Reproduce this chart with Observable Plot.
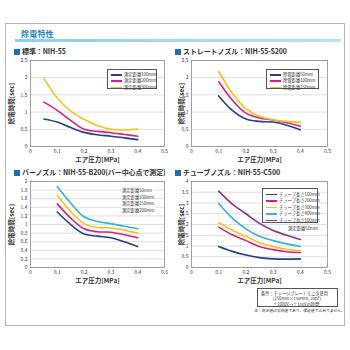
<!DOCTYPE html>
<html><head><meta charset="utf-8">
<script src="https://cdn.jsdelivr.net/npm/d3@7"></script>
<script src="https://cdn.jsdelivr.net/npm/@observablehq/plot@0.6"></script>
<style>
body{margin:0;background:#fff;font-family:"Noto Sans CJK JP","Noto Sans",sans-serif;}
#root{position:relative;width:350px;height:350px;overflow:hidden;background:#fff;}
.abs{position:absolute;}
.ptitle{position:absolute;font-size:7px;font-weight:700;color:#333;white-space:nowrap;line-height:1;letter-spacing:-0.1px;}
.ptitle b{display:inline-block;width:6px;height:6px;background:#1e6db5;margin-right:2px;vertical-align:-0.5px;}
.legend{position:absolute;border:0.6px solid #555;background:#fff;box-sizing:border-box;}
.row{position:absolute;left:0;white-space:nowrap;font-size:4.3px;color:#333;line-height:1;}
.sw{display:inline-block;width:11px;height:1.5px;vertical-align:middle;margin:0 2px 0 3px;}
.plot{position:absolute;}
</style></head><body><div id="root"></div>
<script>
// ---- data ----
const pressureA = [0.05, 0.1, 0.15, 0.2, 0.25, 0.3, 0.35, 0.4];
const pressureB = [0.1, 0.15, 0.2, 0.25, 0.3, 0.35, 0.4];
const xTicks = [0, 0.1, 0.2, 0.3, 0.4, 0.5];

// 標準：NIH-55 (測定距離)
const std100 = [0.80, 0.71, 0.55, 0.41, 0.34, 0.30, 0.25, 0.20];
const std200 = [1.29, 1.05, 0.76, 0.50, 0.44, 0.40, 0.35, 0.30];
const std300 = [1.98, 1.41, 1.03, 0.79, 0.61, 0.50, 0.48, 0.51];
const stdLabels = ["測定距離100mm", "測定距離200mm", "測定距離300mm"];
const stdYTicks = [0, 0.5, 1, 1.5, 2, 2.5];

// ストレートノズル：NIH-55-S200 (除電距離)
const str50 = [1.47, 1.05, 0.80, 0.73, 0.71, 0.62, 0.49];
const str100 = [1.88, 1.35, 0.97, 0.83, 0.77, 0.69, 0.59];
const str150 = [2.18, 1.55, 1.10, 0.88, 0.78, 0.73, 0.70];
const strLabels = ["除電距離50mm", "除電距離100mm", "除電距離150mm"];
const strYTicks = [0, 0.5, 1, 1.5, 2, 2.5];

// バーノズル：NIH-55-B200 (測定距離)
const bar50 = [1.88, 1.50, 1.18, 1.07, 1.02, 0.96, 0.90];
const bar100 = [1.68, 1.30, 1.02, 0.93, 0.92, 0.87, 0.80];
const bar150 = [1.48, 1.15, 0.90, 0.83, 0.82, 0.76, 0.69];
const bar200 = [1.29, 1.00, 0.78, 0.73, 0.69, 0.60, 0.49];
const barLabels = ["測定距離50mm", "測定距離100mm", "測定距離150mm", "測定距離200mm"];
const barYTicks = [0, 0.2, 0.4, 0.6, 0.8, 1, 1.2, 1.4, 1.6, 1.8, 2];

// チューブノズル：NIH-55-C500 (チューブ長さ)
const tube100 = [0.98, 0.75, 0.58, 0.46, 0.40, 0.39, 0.40];
const tube200 = [1.88, 1.52, 1.25, 0.98, 0.83, 0.73, 0.70];
const tube300 = [2.08, 1.73, 1.45, 1.15, 0.98, 0.85, 0.78];
const tube400 = [2.98, 2.30, 1.80, 1.45, 1.25, 1.10, 0.98];
const tube500 = [3.55, 2.95, 2.50, 2.05, 1.72, 1.50, 1.30];
const tubeLabels = ["チューブ長さ100mm", "チューブ長さ200mm", "チューブ長さ300mm", "チューブ長さ400mm", "チューブ長さ500mm"];
const tubeYTicks = [0, 0.5, 1, 1.5, 2, 2.5, 3, 3.5, 4];

const navy = "#233f8f", magenta = "#d8207c", yellow = "#f5c316", cyan = "#38aee0", purple = "#8e2e8e";

const root = document.getElementById("root");
function el(tag, cls, css, html) {
  const e = document.createElement(tag);
  if (cls) e.className = cls;
  if (css) e.style.cssText = css;
  if (html != null) e.innerHTML = html;
  root.appendChild(e);
  return e;
}

// frame & header
el("div", "abs", "left:5px;top:23px;width:340px;height:303px;border:1.5px solid #b3b3b3;box-sizing:border-box;");
el("div", "abs", "left:15px;top:38.5px;width:326px;height:3.5px;background:linear-gradient(90deg,#8fcdee,#b9e2f5);");
el("div", "abs", "left:21px;top:29.5px;font-size:8px;font-weight:700;color:#2a7fc4;line-height:1;letter-spacing:0.2px;", "除電特性");

function panel({left, top, mL, mR, xs, series, yMax, yTicks, yLabelOffset}) {
  const rows = [];
  series.forEach(s => xs.forEach((x, i) => rows.push({x, y: s.values[i], key: s.key})));
  const svg = Plot.plot({
    width: 175, height: 110,
    marginLeft: mL, marginRight: mR, marginTop: 5, marginBottom: 19,
    style: {fontSize: "5px", fontFamily: "'Noto Sans CJK JP', sans-serif", color: "#333", background: "transparent", overflow: "visible"},
    x: {domain: [0, 0.5]},
    y: {domain: [0, yMax]},
    color: {domain: series.map(s => s.key), range: series.map(s => s.color)},
    marks: [
      Plot.gridY(yTicks, {stroke: "#c8c8c8", strokeOpacity: 1, strokeWidth: 0.6}),
      Plot.frame({stroke: "#8a8a8a", strokeWidth: 0.8}),
      Plot.axisX(xTicks, {tickSize: 0, tickPadding: 3, tickFormat: d => String(d), label: "エア圧力[MPa]", labelAnchor: "center", labelArrow: "none", labelOffset: 15}),
      Plot.axisY(yTicks, {tickSize: 0, tickPadding: 3, tickFormat: d => String(d), label: "除電時間[sec]", labelAnchor: "center", labelArrow: "none", labelOffset: yLabelOffset}),
      Plot.line(rows, {x: "x", y: "y", z: "key", stroke: "key", strokeWidth: 1.6, curve: "catmull-rom"})
    ]
  });
  svg.classList.add("plot");
  svg.style.left = left + "px";
  svg.style.top = top + "px";
  d3.select(svg).selectAll('g[aria-label="x-axis label"] text, g[aria-label="y-axis label"] text')
    .attr("font-size", 6.5).attr("font-weight", 700).attr("fill", "#333");
  root.appendChild(svg);
}

function legend({left, top, w, h, labels, colors, rowTops, textOnly}) {
  const box = el("div", "legend", `left:${left}px;top:${top}px;width:${w}px;height:${h}px;` + (textOnly ? "border:none;background:transparent;" : ""));
  labels.forEach((t, i) => {
    const r = document.createElement("div");
    r.className = "row";
    r.style.top = rowTops[i] + "px";
    r.innerHTML = textOnly ? `<span style="background:#fff;padding:0 1px">${t}</span>` : `<span class="sw" style="background:${colors[i]}"></span>${t}`;
    box.appendChild(r);
  });
}

// Panel 1
el("div", "ptitle", "left:14px;top:48px;", "<b></b>標準：NIH-55");
panel({left: 0, top: 55, mL: 30, mR: 11, xs: pressureA, yMax: 2.5, yTicks: stdYTicks, yLabelOffset: 21,
  series: [{key: stdLabels[0], values: std100, color: navy}, {key: stdLabels[1], values: std200, color: magenta}, {key: stdLabels[2], values: std300, color: yellow}]});
legend({left: 107, top: 69, w: 50, h: 20, labels: stdLabels, colors: [navy, magenta, yellow], rowTops: [2, 8.3, 14.6]});

// Panel 2
el("div", "ptitle", "left:175px;top:48px;", "<b></b>ストレートノズル：NIH-55-S200");
panel({left: 175, top: 55, mL: 16, mR: 23, xs: pressureB, yMax: 2.5, yTicks: strYTicks, yLabelOffset: 12,
  series: [{key: strLabels[0], values: str50, color: navy}, {key: strLabels[1], values: str100, color: magenta}, {key: strLabels[2], values: str150, color: yellow}]});
legend({left: 266, top: 69, w: 53, h: 20, labels: strLabels, colors: [navy, magenta, yellow], rowTops: [2, 8.3, 14.6]});

// Panel 3
el("div", "ptitle", "left:14px;top:169px;", "<b></b>バーノズル：NIH-55-B200(バー中心点で測定)");
panel({left: 0, top: 176, mL: 30, mR: 11, xs: pressureB, yMax: 2, yTicks: barYTicks, yLabelOffset: 21,
  series: [{key: barLabels[0], values: bar50, color: cyan}, {key: barLabels[1], values: bar100, color: yellow}, {key: barLabels[2], values: bar150, color: magenta}, {key: barLabels[3], values: bar200, color: navy}]});
legend({left: 121, top: 187, w: 40, h: 26, labels: barLabels, colors: [], rowTops: [1, 7.5, 14, 20.5], textOnly: true});

// Panel 4
el("div", "ptitle", "left:175px;top:169px;", "<b></b>チューブノズル：NIH-55-C500");
panel({left: 175, top: 176, mL: 16, mR: 23, xs: pressureB, yMax: 4, yTicks: tubeYTicks, yLabelOffset: 12,
  series: [{key: tubeLabels[0], values: tube100, color: navy}, {key: tubeLabels[1], values: tube200, color: magenta}, {key: tubeLabels[2], values: tube300, color: yellow}, {key: tubeLabels[3], values: tube400, color: cyan}, {key: tubeLabels[4], values: tube500, color: purple}]});
legend({left: 262, top: 188, w: 56, h: 35, labels: tubeLabels, colors: [navy, magenta, yellow, cyan, purple], rowTops: [2.5, 9, 15.5, 22, 28.5]});
el("div", "abs", "left:270px;top:225.5px;width:48px;text-align:right;font-size:4.3px;color:#333;line-height:1;white-space:nowrap;", "測定距離50mm");

// Conditions note
el("div", "abs", "left:257px;top:288px;width:81px;height:19px;border:0.7px solid #555;box-sizing:border-box;font-size:4.2px;color:#333;line-height:5.6px;padding:1.5px 0 0 3px;white-space:nowrap;",
  "条件：チャージプレートモニタ使用<br><span style='padding-left:12px'>(150mm×150mm, 20pF)</span><br><span style='padding-left:12px'>±1000V→±100Vの時間</span>");
el("div", "abs", "left:254px;top:308.5px;font-size:3.8px;color:#333;line-height:1;white-space:nowrap;", "注：測定値は実測値であり、保証値ではありません。");
</script></body></html>
